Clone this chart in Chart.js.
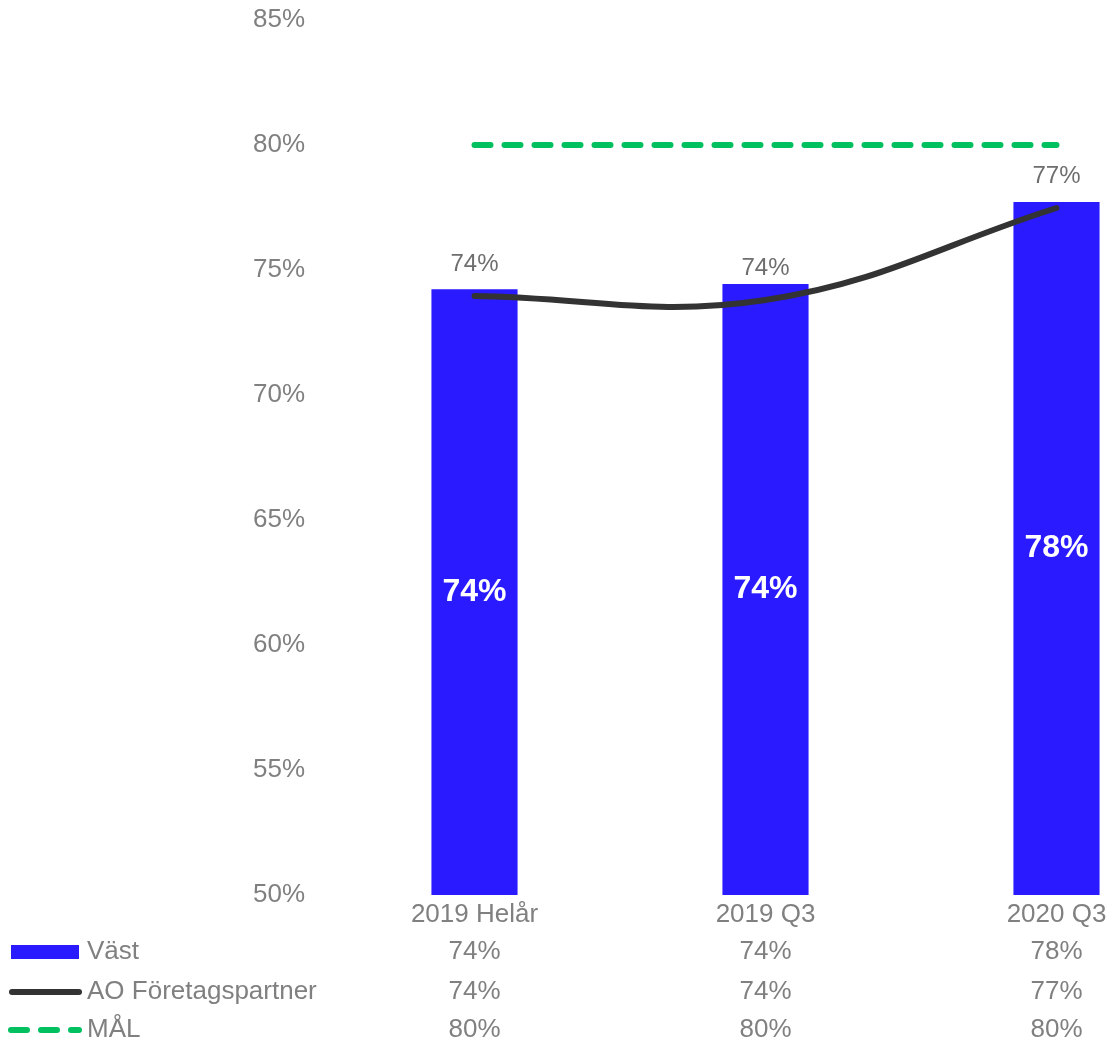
<!DOCTYPE html>
<html lang="sv">
<head>
<meta charset="utf-8">
<script src="https://cdn.jsdelivr.net/npm/chart.js@4.4.1/dist/chart.umd.min.js"></script>
<style>
    html, body {
        margin: 0;
        padding: 0;
        background: #ffffff;
        overflow: hidden;
    }
    #wrap {
        width: 1210px;
        height: 1040px;
    }
</style>
</head>
<body>
<div id="wrap"><canvas id="myChart"></canvas></div>
<script>
// kategorier och serier
const labels = ['2019 Helår', '2019 Q3', '2020 Q3'];
const vastData = [74.23, 74.44, 77.72];
const aoData = [73.96, 73.8, 77.48];
const malData = [80, 80, 80];
const yTicks = [50, 55, 60, 65, 70, 75, 80, 85];

const seriesNames = ['Väst', 'AO Företagspartner', 'MÅL'];

const FONT = '"Liberation Sans", Arial, sans-serif';
const GRAY = '#808080';
const BLUE = '#2A1AFF';
const DARK = '#333333';
const GREEN = '#00C060';

const pct = (v) => Math.round(v) + '%';

/**
 * Etiketter, x-axelns texter och datatabellen ritas här.
 */
const tablePlugin = {
    id: 'tablePlugin',
    afterDatasetsDraw: (chart) => {
        const ctx = chart.ctx;
        const x = chart.scales.x;
        const y = chart.scales.y;

        ctx.save();
        ctx.textAlign = 'center';
        ctx.textBaseline = 'middle';

        // värden ovanför linjen
        ctx.font = '24px ' + FONT;
        ctx.fillStyle = '#6e6e6e';
        aoData.forEach((v, i) => {
            ctx.fillText(pct(v), x.getPixelForValue(i), y.getPixelForValue(v) - 32);
        });

        // vita värden i staplarna
        ctx.font = 'bold 32px ' + FONT;
        ctx.fillStyle = '#ffffff';
        vastData.forEach((v, i) => {
            const mid = (y.getPixelForValue(v) + y.bottom) / 2;
            ctx.fillText(pct(v), x.getPixelForValue(i), mid);
        });

        // kategorier och tabellrader
        ctx.font = '26px ' + FONT;
        ctx.fillStyle = GRAY;
        const rowY = [y.bottom + 20, y.bottom + 57, y.bottom + 97, y.bottom + 135];
        labels.forEach((label, i) => {
            const cx = x.getPixelForValue(i);
            ctx.fillText(label, cx, rowY[0]);
            ctx.fillText(pct(vastData[i]), cx, rowY[1]);
            ctx.fillText(pct(aoData[i]), cx, rowY[2]);
            ctx.fillText(pct(malData[i]), cx, rowY[3]);
        });

        // förklaring
        ctx.textAlign = 'left';
        seriesNames.forEach((name, i) => {
            ctx.fillStyle = GRAY;
            ctx.fillText(name, 87, rowY[i + 1]);
        });

        ctx.fillStyle = BLUE;
        ctx.fillRect(11, rowY[1] - 7, 68, 14);

        ctx.lineWidth = 6;
        ctx.lineCap = 'round';
        ctx.strokeStyle = DARK;
        ctx.beginPath();
        ctx.moveTo(12, rowY[2]);
        ctx.lineTo(79, rowY[2]);
        ctx.stroke();

        ctx.strokeStyle = GREEN;
        ctx.setLineDash([16, 14]);
        ctx.beginPath();
        ctx.moveTo(11, rowY[3]);
        ctx.lineTo(79, rowY[3]);
        ctx.stroke();

        ctx.restore();
    },
};

const createChart = () => {
    const chartData = {
        labels: labels,
        datasets: [
            {
                type: 'line',
                label: seriesNames[1],
                data: aoData,
                borderColor: DARK,
                borderWidth: 6,
                borderCapStyle: 'round',
                tension: 0.4,
                pointRadius: 0,
                order: 1,
            },
            {
                type: 'line',
                label: seriesNames[2],
                data: malData,
                borderColor: GREEN,
                borderWidth: 6,
                borderDash: [16, 14],
                borderCapStyle: 'round',
                pointRadius: 0,
                order: 2,
            },
            {
                type: 'bar',
                label: seriesNames[0],
                data: vastData,
                backgroundColor: BLUE,
                barPercentage: 0.296,
                categoryPercentage: 1,
                order: 3,
            },
        ],
    };

    const config = {
        data: chartData,
        options: {
            responsive: true,
            maintainAspectRatio: false,
            animation: false,
            layout: {
                padding: { top: 20, right: 8, bottom: 145, left: 0 },
            },
            plugins: {
                legend: { display: false },
                tooltip: { enabled: false },
            },
            scales: {
                x: {
                    display: false,
                },
                y: {
                    min: 50,
                    max: 85,
                    afterFit: (scale) => {
                        scale.width = 329;
                        scale.paddingTop = 0;
                        scale.paddingBottom = 0;
                    },
                    afterBuildTicks: (scale) => {
                        scale.ticks = yTicks.map((v) => ({ value: v }));
                    },
                    grid: { display: false },
                    border: { display: false },
                    ticks: {
                        padding: 16,
                        color: GRAY,
                        font: { family: FONT, size: 26 },
                        callback: (v) => v + '%',
                    },
                },
            },
        },
        plugins: [tablePlugin],
    };

    new Chart(document.getElementById('myChart'), config);
};

createChart();
</script>
</body>
</html>
